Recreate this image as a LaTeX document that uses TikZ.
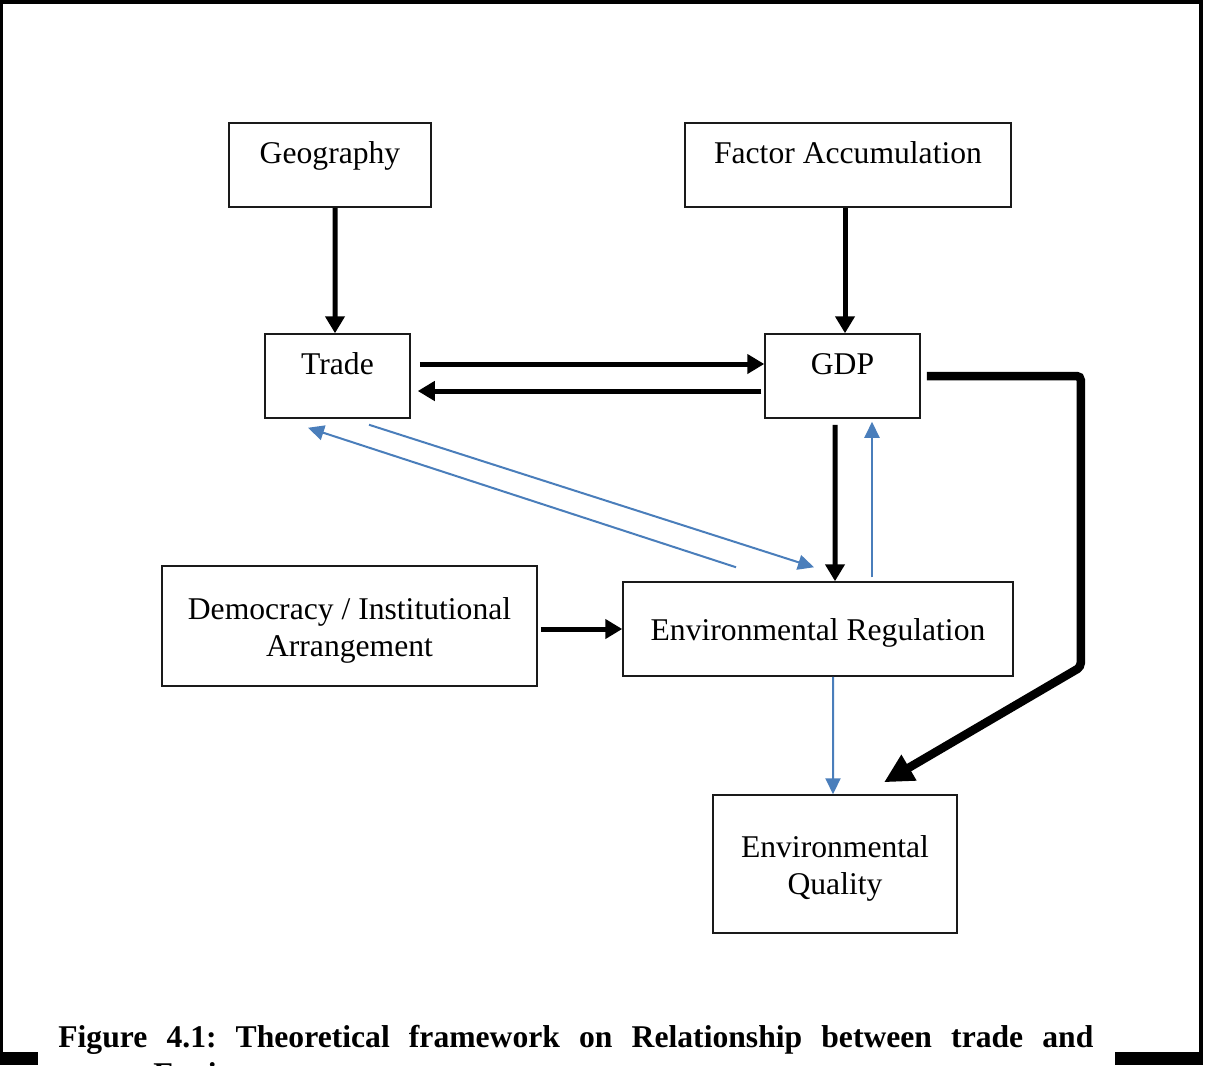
\documentclass[tikz,border=0pt]{standalone}
\usepackage{fontspec}
\setmainfont{Liberation Serif}
\usepackage{xcolor}
\usepackage{tikz}
\usetikzlibrary{arrows.meta, positioning}
\definecolor{boxgray}{HTML}{1A1A1A}
\definecolor{linkblue}{HTML}{4A7EBB}
\newcommand{\topgap}{\rule{0pt}{0.60cm}}

\begin{document}
\frenchspacing
\begin{tikzpicture}[
  node distance=2.51cm,
  every node/.style={font=\fontsize{18}{21}\selectfont},
  factor/.style={
    rectangle, draw=boxgray, line width=0.03cm,
    align=center, inner sep=0pt,
  },
  topfactor/.style={
    factor, minimum height=1.68cm,
    text height=0.45cm, text depth=0.53cm,
  },
  arrow/.style={-{Triangle[length=0.34cm,width=0.38cm]}, line width=0.10cm},
  bluearrow/.style={-{Triangle[length=0.32cm,width=0.30cm]}, line width=0.04cm, color=linkblue},
  bigarrow/.style={-{Triangle[length=0.58cm,width=0.56cm]}, line width=0.17cm, rounded corners=0.08cm},
  frame/.style={line width=0.07cm},
  caption/.style={font=\bfseries\fontsize{18}{21}\selectfont, inner sep=0pt, anchor=base west},
]
\useasboundingbox (0,0) rectangle (24.14,-21.30);
\clip (0,0) rectangle (24.14,-21.30);

% Page frame
\draw[frame] (0.03,-21.17) |- (24.02,-0.04) -- (24.02,-21.17);
\draw[line width=0.26cm] (0,-21.17) -- (24.06,-21.17);

% Row 1 — sources
\node[topfactor, minimum width=4.04cm] (geo) at (6.60,-3.30) {Geography};
\node[topfactor, minimum width=6.52cm] (factor) at (16.96,-3.30) {Factor Accumulation};

% Row 2 — trade and output
\node[topfactor, minimum width=2.90cm, below=of geo, xshift=0.15cm] (trade) {Trade};
\node[topfactor, minimum width=3.10cm, below=of factor, xshift=-0.11cm] (gdp) {GDP};

% Row 3 — regulation and institutions
\node[factor, minimum width=7.80cm, minimum height=1.88cm,
      below=3.25cm of gdp, xshift=-0.49cm] (reg) {\topgap Environmental Regulation};
\node[factor, minimum width=7.50cm, minimum height=2.40cm,
      left=1.69cm of reg, yshift=0.06cm] (demo) {\topgap Democracy / Institutional\\Arrangement};

% Row 4 — outcome
\node[factor, minimum width=4.88cm, minimum height=2.76cm,
      below=2.35cm of reg, xshift=0.34cm] (quality) {\topgap Environmental\\Quality};

% Arrows — black links
\draw[arrow] ([xshift=0.10cm]geo.south) -- ([xshift=-0.05cm]trade.north);
\draw[arrow] ([xshift=-0.06cm]factor.south) -- ([xshift=0.05cm]gdp.north);
\draw[arrow] ([xshift=0.18cm,yshift=0.24cm]trade.east) -- ([yshift=0.24cm]gdp.west);
\draw[arrow] ([xshift=-0.06cm,yshift=-0.30cm]gdp.west) -- ([xshift=0.14cm,yshift=-0.30cm]trade.east);
\draw[arrow] ([xshift=-0.15cm,yshift=-0.12cm]gdp.south) -- ([xshift=0.34cm]reg.north);
\draw[arrow, shorten <=0.06cm] (demo.east |- reg.west) -- (reg.west);

% Arrows — blue feedback
\draw[bluearrow] ([xshift=1.08cm,yshift=0.08cm]reg.north) -- ([xshift=0.59cm,yshift=-0.06cm]gdp.south);
\draw[bluearrow] ([xshift=0.63cm,yshift=-0.12cm]trade.south) -- ([xshift=-0.08cm,yshift=0.28cm]reg.north);
\draw[bluearrow] ([xshift=-1.64cm,yshift=0.28cm]reg.north) -- ([xshift=-0.59cm,yshift=-0.18cm]trade.south);
\draw[bluearrow] ([xshift=0.30cm]reg.south) -- ([xshift=-0.04cm]quality.north);

% GDP -> quality (outer route)
\draw[bigarrow] ([xshift=0.12cm]gdp.east) -- ++(3.08,0) -- ++(0,-5.82)
  -- ([xshift=0.98cm,yshift=0.24cm]quality.north);

% Caption
\fill[white] (0.76,-20.30) rectangle (22.30,-21.40);
\node[caption] (cap) at (1.16,-20.94)
  {\makebox[20.70cm][s]{Figure 4.1: Theoretical framework on Relationship between trade and}};
\node[caption] (cap2) at (3.06,-21.68) {Environment};

\end{tikzpicture}
\end{document}
